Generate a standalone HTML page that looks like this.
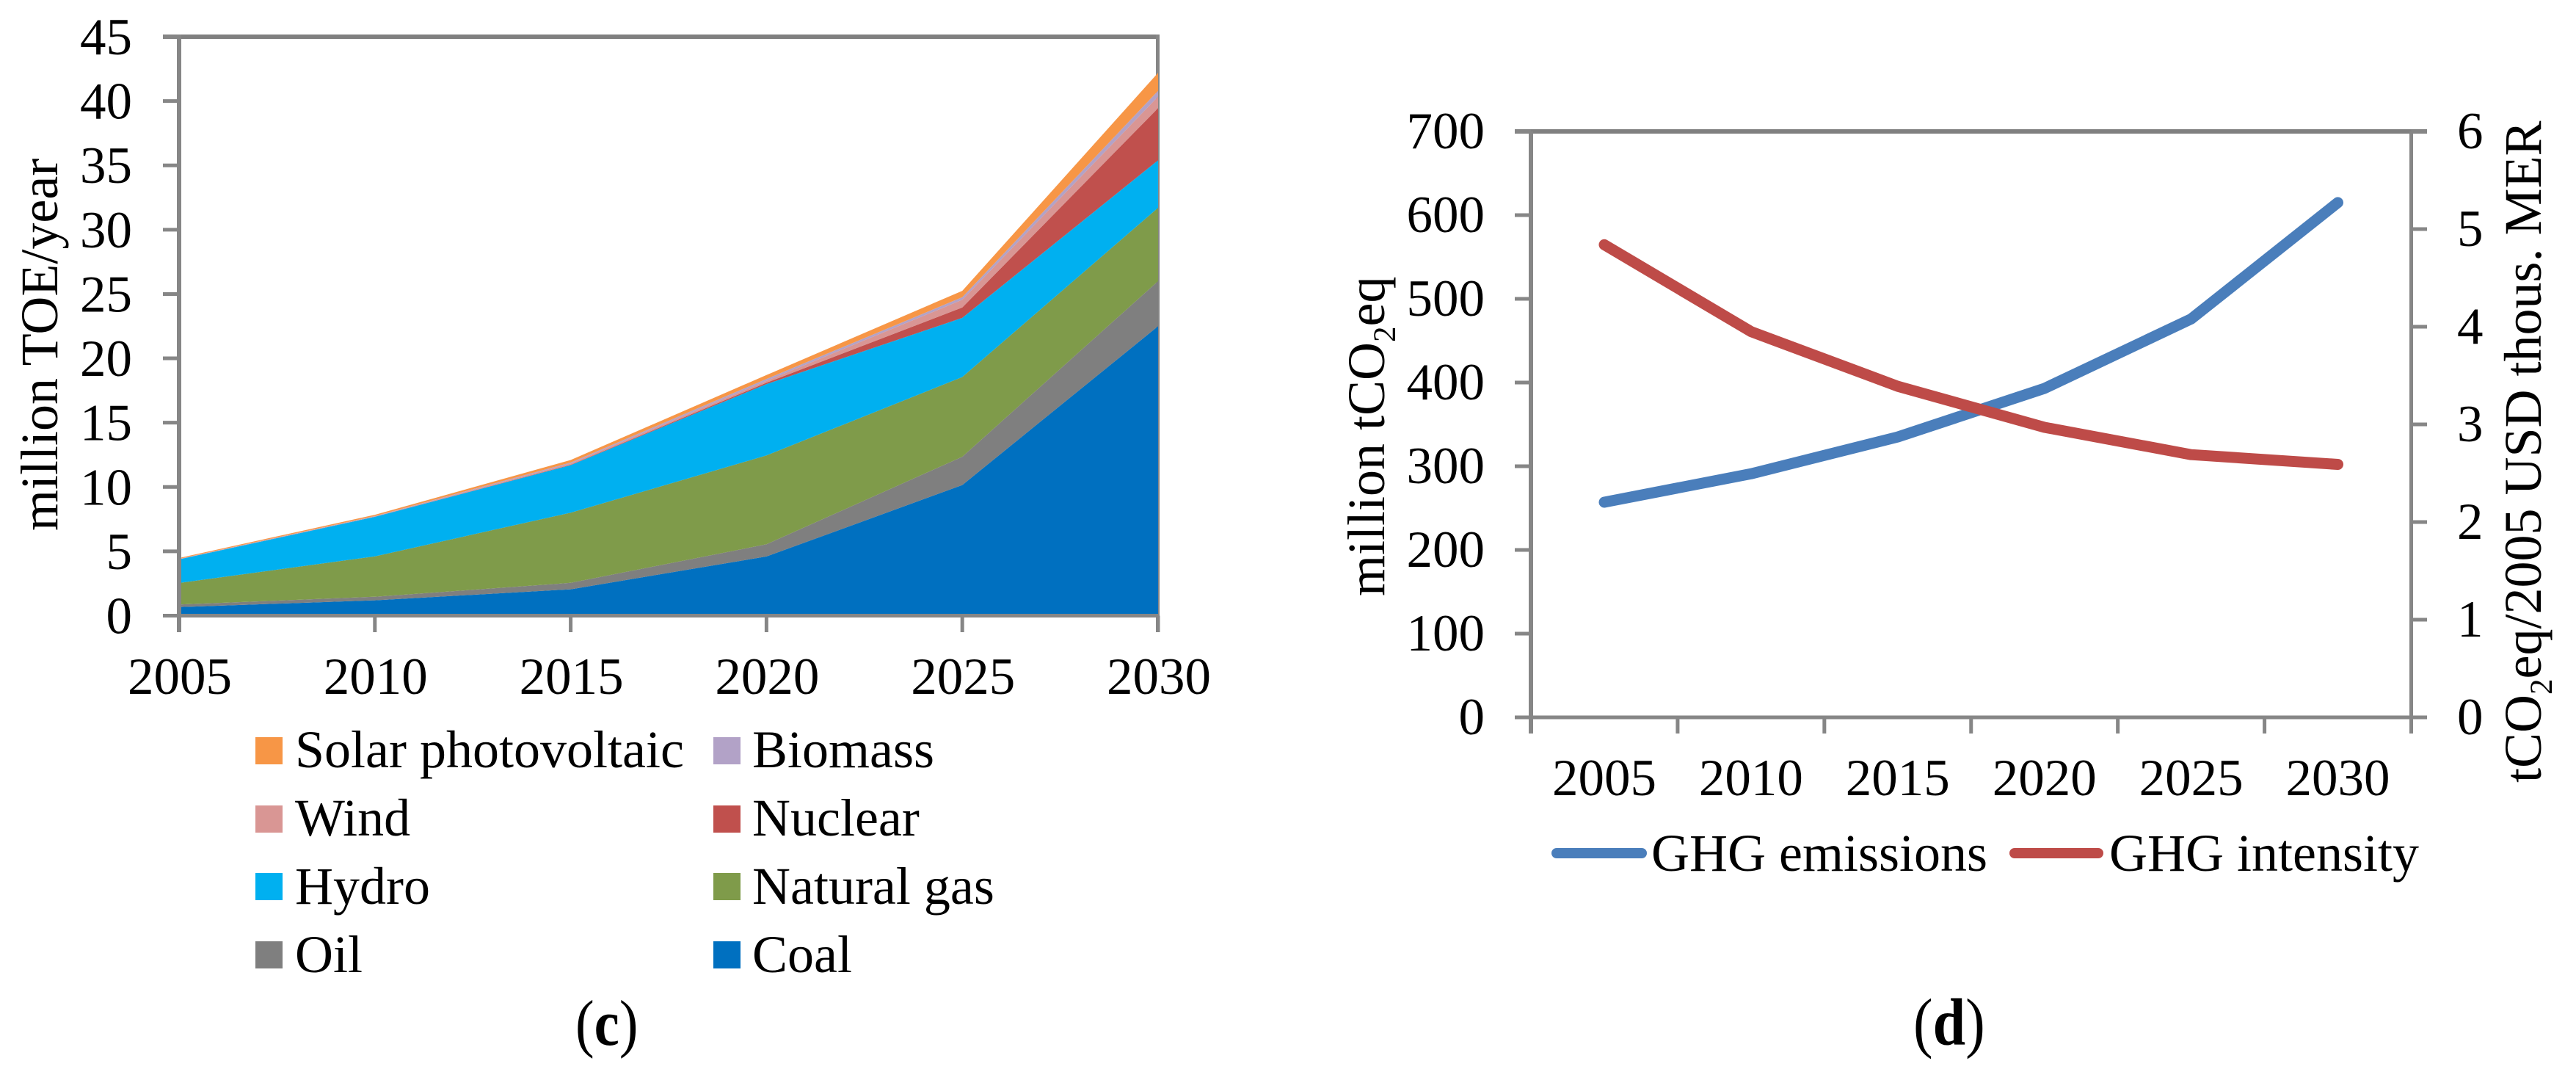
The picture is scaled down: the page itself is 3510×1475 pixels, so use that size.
<!DOCTYPE html>
<html lang="en">
<head>
<meta charset="utf-8">
<title>Energy supply and GHG emissions, panels c and d</title>
<style>
html,body{margin:0;padding:0;background:#fff;}
svg{display:block;}
text{font-family:"Liberation Serif",serif;fill:#000;font-size:71px;}
</style>
</head>
<body>
<svg id="figure" xmlns="http://www.w3.org/2000/svg" width="3510" height="1475" viewBox="0 0 3510 1475">
  <rect x="0" y="0" width="3510" height="1475" fill="#ffffff"/>

  <g id="panel-c"></g>
  <text transform="translate(78 723) rotate(-90)" style="font-size:72px">million TOE/year</text>

  <g>
    <g><rect x="348" y="1004" width="37" height="37" fill="#F79646"/><text x="402" y="1045" style="font-size:72px">Solar photovoltaic</text></g>
    <g><rect x="972" y="1004" width="37" height="37" fill="#B2A2C7"/><text x="1025" y="1045" style="font-size:72px">Biomass</text></g>
    <g><rect x="348" y="1097" width="37" height="37" fill="#D99694"/><text x="402" y="1138" style="font-size:72px">Wind</text></g>
    <g><rect x="972" y="1097" width="37" height="37" fill="#C0504D"/><text x="1025" y="1138" style="font-size:72px">Nuclear</text></g>
    <g><rect x="348" y="1189" width="37" height="37" fill="#00B0F0"/><text x="402" y="1231" style="font-size:72px">Hydro</text></g>
    <g><rect x="972" y="1189" width="37" height="37" fill="#7F9B4A"/><text x="1025" y="1231" style="font-size:72px">Natural gas</text></g>
    <g><rect x="348" y="1282" width="37" height="37" fill="#7F7F7F"/><text x="402" y="1324" style="font-size:72px">Oil</text></g>
    <g><rect x="972" y="1282" width="37" height="37" fill="#0070C0"/><text x="1025" y="1324" style="font-size:72px">Coal</text></g>
  </g>
  <text transform="translate(784 1423) scale(1 1.14)" style="font-size:77px">(<tspan font-weight="bold">c</tspan>)</text>

  <g id="panel-d"></g>
  <text transform="translate(1886 812) rotate(-90)" style="font-size:72px">million tCO<tspan style="font-size:43px" dy="15">2</tspan><tspan dy="-15">eq</tspan></text>
  <text transform="translate(3462 1066) rotate(-90)" style="font-size:72px">tCO<tspan style="font-size:43px" dy="15">2</tspan><tspan dy="-15">eq/2005 USD thous. MER</tspan></text>

  <g>
    <g><line x1="2121" y1="1162" x2="2237" y2="1162" stroke="#4A7EBB" stroke-width="14" stroke-linecap="round"/><text x="2250" y="1186" style="font-size:72px">GHG emissions</text></g>
    <g><line x1="2745" y1="1162" x2="2859" y2="1162" stroke="#BE4B48" stroke-width="14" stroke-linecap="round"/><text x="2874" y="1186" style="font-size:72px">GHG intensity</text></g>
  </g>
  <text transform="translate(2607 1423) scale(1 1.14)" style="font-size:80px">(<tspan font-weight="bold">d</tspan>)</text>
</svg>

<script>
// Panel c: stacked area data (million TOE/year per source)
const areaYears = ["2005", "2010", "2015", "2020", "2025", "2030"];
const areaTickLabels = ["0", "5", "10", "15", "20", "25", "30", "35", "40", "45"];
const coal = [0.67, 1.19, 2.05, 4.6, 10.15, 22.5];
const oil = [0.2, 0.28, 0.5, 0.95, 2.2, 3.5];
const naturalGas = [1.67, 3.14, 5.45, 6.9, 6.2, 5.7];
const hydro = [1.84, 3.07, 3.7, 5.55, 4.6, 3.7];
const nuclear = [0, 0, 0.03, 0.1, 0.8, 4.05];
const wind = [0.02, 0.04, 0.1, 0.15, 0.6, 0.9];
const biomass = [0.02, 0.03, 0.07, 0.15, 0.2, 0.45];
const solar = [0.06, 0.09, 0.2, 0.3, 0.5, 1.4];

// Panel d: line chart data
const lineYears = ["2005", "2010", "2015", "2020", "2025", "2030"];
const leftTickLabels = ["0", "100", "200", "300", "400", "500", "600", "700"];
const rightTickLabels = ["0", "1", "2", "3", "4", "5", "6"];
const ghgEmissions = [257, 291, 335, 393, 476, 615];
const ghgIntensity = [4.84, 3.95, 3.39, 2.97, 2.69, 2.59];

const NS = "http://www.w3.org/2000/svg";
const AXIS = "#868686";

function mk(parent, tag, attrs) {
  const el = document.createElementNS(NS, tag);
  for (const k in attrs) el.setAttribute(k, attrs[k]);
  parent.appendChild(el);
  return el;
}

/* ---------- Panel c ---------- */
const gc = document.getElementById("panel-c");
const cLeft = 244, cRight = 1578, cTop = 50, cBottom = 838.5, cMax = 45;
const cx = i => cLeft + (cRight - cLeft) * i / (areaYears.length - 1);
const cy = v => cBottom - (cBottom - cTop) * v / cMax;

const cTopLine = mk(gc, "line", {x1: 222, y1: cy(cMax), x2: 1580, y2: cy(cMax), stroke: "#808080", "stroke-width": 6});


const cRightLine = mk(gc, "line", {x1: 1577.5, y1: 47, x2: 1577.5, y2: 861, stroke: AXIS, "stroke-width": 5});



const stackSeries = [
  {name: "coal", values: coal, color: "#0070C0"},
  {name: "oil", values: oil, color: "#7F7F7F"},
  {name: "natural-gas", values: naturalGas, color: "#7F9B4A"},
  {name: "hydro", values: hydro, color: "#00B0F0"},
  {name: "nuclear", values: nuclear, color: "#C0504D"},
  {name: "wind", values: wind, color: "#D99694"},
  {name: "biomass", values: biomass, color: "#B2A2C7"},
  {name: "solar-photovoltaic", values: solar, color: "#F79646"}
];
let baseline = areaYears.map(() => 0);
stackSeries.forEach(s => {
  const tops = baseline.map((b, i) => b + s.values[i]);
  const upper = tops.map((v, i) => cx(i).toFixed(1) + "," + cy(v).toFixed(1));
  const lower = baseline.map((v, i) => cx(i).toFixed(1) + "," + cy(v).toFixed(1)).reverse();
  const poly = mk(gc, "polygon", {points: upper.concat(lower).join(" "), fill: s.color});
  
  
  baseline = tops;
});

const cLeftLine = mk(gc, "line", {x1: cLeft, y1: 47, x2: cLeft, y2: 861, stroke: AXIS, "stroke-width": 6});


const cBottomLine = mk(gc, "line", {x1: 222, y1: cBottom, x2: 1580, y2: cBottom, stroke: AXIS, "stroke-width": 5});



areaTickLabels.forEach(t => {
  const y = cy(Number(t));
  const tick = mk(gc, "line", {x1: 222, y1: y, x2: cLeft, y2: y, stroke: AXIS, "stroke-width": 5});
  
  
  const label = mk(gc, "text", {x: 180, y: y + 24, "text-anchor": "end"});
  label.textContent = t;
  
  
});
areaYears.forEach((t, i) => {
  const tick = mk(gc, "line", {x1: cx(i), y1: cBottom, x2: cx(i), y2: 861, stroke: AXIS, "stroke-width": 5});
  
  
  const label = mk(gc, "text", {x: cx(i) + 1, y: 945, "text-anchor": "middle"});
  label.textContent = t;
  
  
});

/* ---------- Panel d ---------- */
const gd = document.getElementById("panel-d");
const dLeft = 2086, dRight = 3285.5, dTop = 179, dBottom = 977, dLeftMax = 700, dRightMax = 6;
const dBand = (dRight - dLeft) / lineYears.length;
const dx = i => dLeft + dBand * (i + 0.5);
const dyLeft = v => dBottom - (dBottom - dTop) * v / dLeftMax;
const dyRight = v => dBottom - (dBottom - dTop) * v / dRightMax;

const dTopLine = mk(gd, "line", {x1: 2064, y1: dTop, x2: 3307, y2: dTop, stroke: "#808080", "stroke-width": 6});


const dBottomLine = mk(gd, "line", {x1: 2064, y1: dBottom, x2: 3307, y2: dBottom, stroke: AXIS, "stroke-width": 5});


const dLeftLine = mk(gd, "line", {x1: dLeft, y1: dTop, x2: dLeft, y2: 999, stroke: AXIS, "stroke-width": 6});


const dRightLine = mk(gd, "line", {x1: dRight, y1: dTop, x2: dRight, y2: 999, stroke: AXIS, "stroke-width": 5});



leftTickLabels.forEach(t => {
  const y = dyLeft(Number(t));
  const tick = mk(gd, "line", {x1: 2064, y1: y, x2: dLeft, y2: y, stroke: AXIS, "stroke-width": 5});
  
  
  const label = mk(gd, "text", {x: 2023, y: y + 23, "text-anchor": "end"});
  label.textContent = t;
  
  
});
rightTickLabels.forEach(t => {
  const y = dyRight(Number(t));
  const tick = mk(gd, "line", {x1: dRight, y1: y, x2: 3307, y2: y, stroke: AXIS, "stroke-width": 5});
  
  
  const label = mk(gd, "text", {x: 3348, y: y + 23});
  label.textContent = t;
  
  
});
lineYears.forEach((t, i) => {
  const tick = mk(gd, "line", {x1: dLeft + dBand * i, y1: dBottom, x2: dLeft + dBand * i, y2: 999, stroke: AXIS, "stroke-width": 5});
  
  
  const label = mk(gd, "text", {x: dx(i), y: 1083, "text-anchor": "middle"});
  label.textContent = t;
  
  
});

const emissionsLine = mk(gd, "polyline", {
  points: ghgEmissions.map((v, i) => dx(i).toFixed(1) + "," + dyLeft(v).toFixed(1)).join(" "),
  fill: "none", stroke: "#4A7EBB", "stroke-width": 15, "stroke-linecap": "round", "stroke-linejoin": "round"
});


const intensityLine = mk(gd, "polyline", {
  points: ghgIntensity.map((v, i) => dx(i).toFixed(1) + "," + dyRight(v).toFixed(1)).join(" "),
  fill: "none", stroke: "#BE4B48", "stroke-width": 15, "stroke-linecap": "round", "stroke-linejoin": "round"
});


</script>
</body>
</html>
